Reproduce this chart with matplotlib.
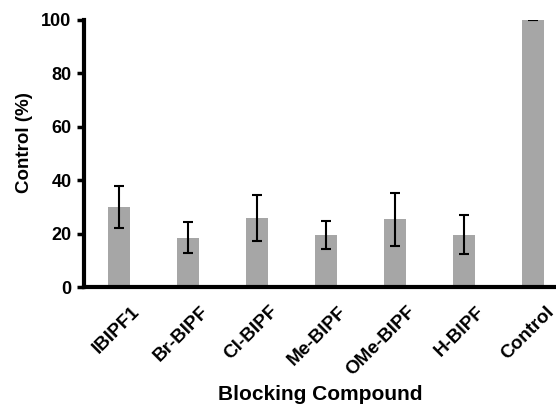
import matplotlib
matplotlib.use("Agg")
import matplotlib.pyplot as plt
import matplotlib.transforms as mtransforms
import numpy as np

categories = ["IBIPF1", "Br-BIPF", "Cl-BIPF", "Me-BIPF", "OMe-BIPF", "H-BIPF", "Control"]
values = [29.9, 18.5, 25.8, 19.6, 25.3, 19.6, 100.0]
errors = [7.9, 5.8, 8.5, 5.3, 10.0, 7.4, 0.0]
yticks = [0, 20, 40, 60, 80, 100]

plt.rcParams['font.family'] = ['Liberation Sans', 'DejaVu Sans']
plt.rcParams['font.weight'] = 'bold'

fig = plt.figure(figsize=(5.56, 4.05), dpi=100)
ax = fig.add_axes([84/556, 118/405, 1 - 84/556, 267/405])

x = np.arange(len(categories))
ax.bar(x, values, width=0.32, color='#a6a6a6', edgecolor='none', zorder=2)
ax.errorbar(x, values, yerr=errors, fmt='none', ecolor='black', elinewidth=1.5,
            capsize=3.3, capthick=1.5, zorder=3)

ax.set_xlim(-0.51, 6.33)
ax.set_ylim(0, 100)
ax.set_yticks(yticks)
ax.set_yticklabels([str(v) for v in yticks], fontsize=13, fontweight='bold')
ax.set_xticks(x)
ax.set_xticklabels(categories, rotation=45, ha='right', va='top', rotation_mode='anchor',
                   fontsize=13.6, fontweight='bold')
ax.tick_params(axis='x', length=0, pad=11.5)
ax.tick_params(axis='y', length=5, width=2.5, pad=4)
offset = mtransforms.ScaledTranslation(12/100, 0, fig.dpi_scale_trans)
for lab in ax.get_xticklabels():
    lab.set_transform(lab.get_transform() + offset)

for s in ['top', 'right']:
    ax.spines[s].set_visible(False)
for s in ['left', 'bottom']:
    ax.spines[s].set_linewidth(3)

ax.set_ylabel("Control (%)", fontsize=13.5, fontweight='bold')
ax.yaxis.set_label_coords(-0.108, 0.541)
ax.set_xlabel("Blocking Compound", fontsize=15, fontweight='bold')
ax.xaxis.set_label_coords(0.5, -0.368)

fig.savefig("out.png", dpi=100)
